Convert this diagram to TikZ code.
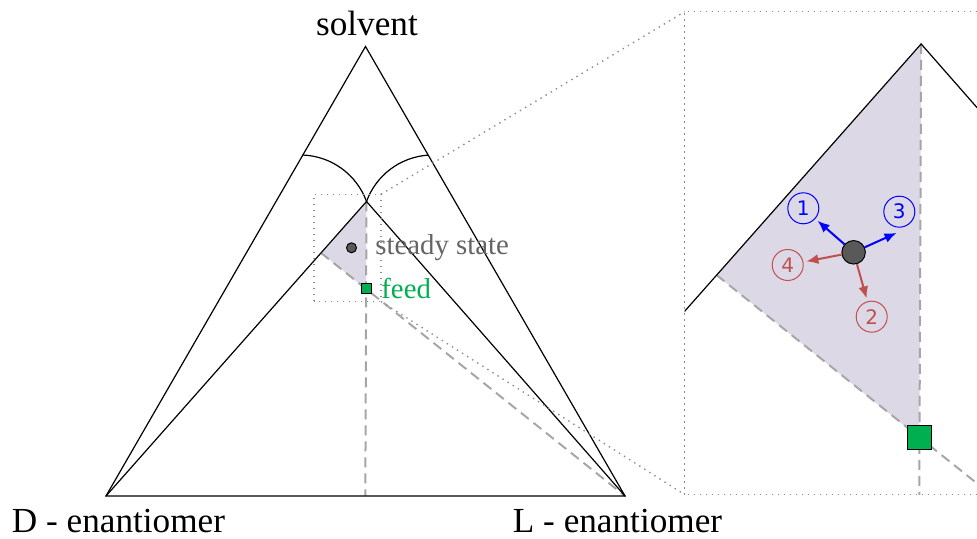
\documentclass[tikz,border=0pt]{standalone}
\usepackage{fontspec}
\setmainfont{Liberation Serif}
\newfontfamily\numfont{DejaVu Sans}
\usetikzlibrary{arrows.meta,positioning}

\definecolor{regionfill}{RGB}{221,216,230}
\definecolor{feedgreen}{RGB}{0,176,80}
\definecolor{dotgray}{RGB}{89,89,89}
\definecolor{labelgray}{RGB}{100,100,100}
\definecolor{tiltblue}{RGB}{0,0,255}
\definecolor{tiltred}{RGB}{192,80,77}
\definecolor{guidegray}{RGB}{166,166,166}
\definecolor{zoomgray}{RGB}{140,140,140}

\tikzset{
  tri/.style={line width=0.6pt},
  guide/.style={guidegray, line width=1pt, dash pattern=on 5pt off 3pt},
  zoomline/.style={zoomgray, line width=0.7pt, dash pattern=on 0.7pt off 2.3pt},
  ssdot/.style={circle, draw=black, fill=dotgray, inner sep=0pt, line width=0.5pt},
  feedbox/.style={rectangle, draw=black, fill=feedgreen, inner sep=0pt, line width=0.5pt},
  numc/.style={circle, draw, line width=0.5pt, inner sep=0pt, minimum size=15.5pt,
    font=\numfont\fontsize{10}{10}\selectfont},
  move/.style={line width=1pt, -{Latex[length=6pt,width=5pt]}, shorten >=1.5pt},
  cornerlabel/.style={inner sep=0pt, font=\fontsize{17.6}{20}\selectfont},
  notelabel/.style={anchor=west, inner sep=0pt, font=\fontsize{14.4}{16}\selectfont},
}

% key points of the phase diagram, prefix #1
\newcommand\keypoints[1]{%
  \coordinate (#1D) at (106,43);
  \coordinate (#1L) at (625,43);
  \coordinate (#1S) at (365.5,492.5);
  \coordinate (#1P) at (366.5,337.5);
  \coordinate (#1M) at (365.3,43);
  \coordinate (#1F) at (366.1,250);
  \coordinate (#1C) at (intersection of #1D--#1P and #1L--#1F);
  \coordinate (#1SS) at (351.5,291.2);
}

\begin{document}
\begin{tikzpicture}[x=0.5pt, y=0.5pt]
\clip (0,0) rectangle (977,539);

% ===== Ternary diagram =====
\keypoints{}
\fill[regionfill] (P) -- (C) -- (F) -- cycle;
\draw[guide] (P) -- (M);
\draw[guide] (C) -- (L);

\draw[tri] (D) -- (L) -- (S) -- cycle;
\draw[tri] (D) -- (P) -- (L);
% solubility curves
\draw[tri] (P) arc[start angle=20, end angle=88, radius=70.7];
\draw[tri] (P) arc[start angle=160, end angle=94, radius=70.7];

\node[ssdot, minimum size=5pt] (ss) at (SS) {};
\node[feedbox, minimum size=5pt] (feed) at (F) {};
\node[notelabel, labelgray] (sslabel) at (375,291) {steady state};
\node[notelabel, feedgreen] (feedlabel) at (381,250.5) {feed};

\node[cornerlabel] (solvent) at (367,515.5) {solvent};
\node[cornerlabel] (dlabel) at (118.5,17.5) {D - enantiomer};
\node[cornerlabel] (llabel) at (617.5,17.5) {L - enantiomer};

% Zoom region and connector lines to the inset
\coordinate (bA) at (381,344.7);
\coordinate (bB) at (381,237.5);
\coordinate (iA) at (684.7,527.3);
\coordinate (iB) at (684.7,44.3);
\draw[zoomline] (314,237.5) rectangle (bA);
\draw[zoomline] (bA) -- (iA);
\draw[zoomline] (bB) -- (iB);

% ===== Magnified inset =====
\begin{scope}[shift={(684.7,527.3)}, scale=4.5, shift={(-314,-344.7)}]
  \clip (314,237.5) rectangle (381,344.7);
  \keypoints{i}
  \fill[regionfill] (iP) -- (iC) -- (iF) -- cycle;
  \draw[guide] (iP) -- (iM);
  \draw[guide] (iC) -- (iL);
  \draw[tri] (iD) -- (iP) -- (iL);
  \node[feedbox, minimum size=11.75pt] (feedi) at (iF) {};
  \node[ssdot, minimum size=11.75pt] (ssi) at (iSS) {};
\end{scope}
\draw[zoomline] (iB) rectangle (990,527.3);

% possible moves of the steady state
\node[numc, tiltblue] (n1) at (803.3,330.7) {1};
\node[numc, tiltblue] (n3) at (899.3,327.3) {3};
\node[numc, tiltred] (n4) at (787.7,274) {4};
\node[numc, tiltred] (n2) at (871.7,222.3) {2};
\draw[move, tiltblue] (ssi) -- (n1);
\draw[move, tiltblue] (ssi) -- ([yshift=-2pt]n3.south);
\draw[move, tiltred] (ssi) -- (n4);
\draw[move, tiltred] (ssi) -- (n2);

\end{tikzpicture}
\end{document}
